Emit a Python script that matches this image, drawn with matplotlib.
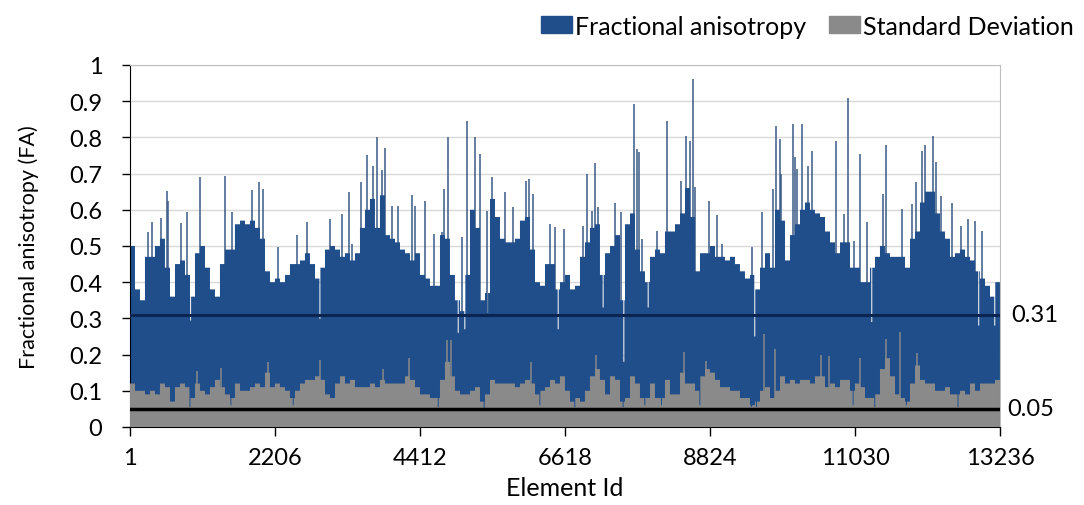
import numpy as np
import matplotlib.pyplot as plt
from matplotlib.patches import Patch
from matplotlib.transforms import blended_transform_factory

plt.rcParams['font.family'] = ['Lato', 'DejaVu Sans']

n_el = 13236
x_ticks = [1, 2206, 4412, 6618, 8824, 11030, 13236]

# FA level read along the axis, 174 equal runs of elements (left to right)
fa_level = [0.50, 0.38, 0.35, 0.47, 0.47, 0.50, 0.52, 0.44, 0.36, 0.45, 0.46, 0.42,
            0.36, 0.48, 0.50, 0.44, 0.38, 0.36, 0.45, 0.49, 0.49, 0.56, 0.57, 0.56,
            0.57, 0.55, 0.52, 0.43, 0.40, 0.41, 0.40, 0.42, 0.45, 0.45, 0.46, 0.48,
            0.45, 0.41, 0.44, 0.49, 0.50, 0.49, 0.47, 0.48, 0.46, 0.48, 0.55, 0.60,
            0.63, 0.55, 0.64, 0.53, 0.52, 0.51, 0.49, 0.48, 0.46, 0.48, 0.42, 0.41,
            0.39, 0.39, 0.53, 0.52, 0.42, 0.35, 0.32, 0.42, 0.60, 0.55, 0.35, 0.37,
            0.63, 0.58, 0.52, 0.51, 0.51, 0.52, 0.57, 0.58, 0.49, 0.40, 0.39, 0.45,
            0.45, 0.38, 0.40, 0.42, 0.38, 0.39, 0.47, 0.51, 0.55, 0.56, 0.42, 0.48,
            0.50, 0.53, 0.35, 0.56, 0.59, 0.49, 0.43, 0.40, 0.47, 0.49, 0.48, 0.54,
            0.54, 0.56, 0.59, 0.66, 0.58, 0.43, 0.48, 0.48, 0.50, 0.47, 0.47, 0.46,
            0.47, 0.45, 0.43, 0.41, 0.42, 0.38, 0.44, 0.48, 0.44, 0.60, 0.57, 0.46,
            0.53, 0.56, 0.60, 0.62, 0.60, 0.59, 0.58, 0.54, 0.51, 0.48, 0.51, 0.51,
            0.44, 0.44, 0.40, 0.40, 0.44, 0.47, 0.50, 0.48, 0.47, 0.47, 0.47, 0.44,
            0.52, 0.54, 0.62, 0.65, 0.65, 0.59, 0.54, 0.52, 0.47, 0.48, 0.49, 0.47,
            0.46, 0.43, 0.41, 0.39, 0.36, 0.40]

# SD level over the same runs
sd_level = [0.12, 0.10, 0.10, 0.09, 0.10, 0.09, 0.12, 0.11, 0.07, 0.11, 0.12, 0.11,
            0.08, 0.12, 0.10, 0.09, 0.11, 0.13, 0.11, 0.09, 0.08, 0.12, 0.10, 0.10,
            0.11, 0.12, 0.11, 0.15, 0.11, 0.12, 0.11, 0.10, 0.08, 0.10, 0.12, 0.13,
            0.13, 0.14, 0.13, 0.09, 0.08, 0.12, 0.14, 0.12, 0.13, 0.11, 0.11, 0.11,
            0.12, 0.11, 0.13, 0.12, 0.12, 0.12, 0.12, 0.14, 0.13, 0.11, 0.09, 0.09,
            0.08, 0.08, 0.13, 0.18, 0.14, 0.10, 0.09, 0.09, 0.10, 0.11, 0.07, 0.09,
            0.13, 0.12, 0.12, 0.12, 0.12, 0.11, 0.12, 0.13, 0.12, 0.09, 0.10, 0.11,
            0.13, 0.12, 0.14, 0.10, 0.07, 0.08, 0.07, 0.10, 0.14, 0.16, 0.13, 0.09,
            0.14, 0.13, 0.07, 0.08, 0.14, 0.12, 0.08, 0.08, 0.12, 0.08, 0.08, 0.13,
            0.09, 0.09, 0.15, 0.12, 0.12, 0.10, 0.14, 0.16, 0.15, 0.13, 0.11, 0.11,
            0.10, 0.10, 0.08, 0.08, 0.06, 0.07, 0.10, 0.11, 0.08, 0.10, 0.14, 0.12,
            0.13, 0.12, 0.13, 0.13, 0.12, 0.14, 0.14, 0.11, 0.12, 0.11, 0.13, 0.13,
            0.10, 0.12, 0.11, 0.08, 0.08, 0.09, 0.16, 0.19, 0.14, 0.09, 0.08, 0.07,
            0.12, 0.17, 0.13, 0.12, 0.12, 0.10, 0.10, 0.11, 0.09, 0.09, 0.10, 0.09,
            0.12, 0.10, 0.12, 0.12, 0.12, 0.13]

# single elements sticking out above the FA level
fa_spike_el = [269, 340, 467, 558, 583, 771, 862, 1070, 1450, 1547, 1851, 1967,
               2018, 2256, 2535, 2687, 3042, 3220, 3336, 3372, 3509, 3610, 3701,
               3752, 3828, 3879, 3980, 4081, 4284, 4335, 4487, 4629, 4741, 4776,
               4832, 5055, 5126, 5247, 5324, 5425, 5506, 5699, 5830, 6018, 6069,
               6125, 6388, 6464, 6601, 6895, 6946, 7022, 7073, 7123, 7377, 7468,
               7671, 7707, 7742, 7783, 8011, 8168, 8391, 8467, 8518, 8563, 8594,
               8807, 8933, 9009, 9471, 9623, 9785, 9826, 9887, 9912, 10094,
               10120, 10155, 10231, 10317, 10373, 10749, 10860, 10921, 11012,
               11103, 11215, 11458, 11509, 11747, 11894, 11955, 12051, 12103,
               12224, 12259, 12346, 12508, 12650, 12751, 12863, 12969]
fa_spike_val = [0.538, 0.565, 0.576, 0.653, 0.625, 0.563, 0.593, 0.690, 0.694,
                0.593, 0.656, 0.678, 0.657, 0.496, 0.529, 0.565, 0.575, 0.588,
                0.648, 0.505, 0.676, 0.75, 0.72, 0.80, 0.71, 0.77, 0.61, 0.61,
                0.64, 0.61, 0.625, 0.533, 0.538, 0.657, 0.80, 0.524, 0.846, 0.80,
                0.754, 0.598, 0.69, 0.65, 0.607, 0.68, 0.685, 0.644, 0.56, 0.552,
                0.547, 0.556, 0.70, 0.598, 0.73, 0.607, 0.62, 0.593, 0.892,
                0.768, 0.759, 0.519, 0.542, 0.846, 0.68, 0.805, 0.79, 0.96,
                0.662, 0.623, 0.586, 0.505, 0.496, 0.593, 0.657, 0.832, 0.796,
                0.70, 0.837, 0.745, 0.713, 0.837, 0.72, 0.763, 0.79, 0.588, 0.91,
                0.515, 0.754, 0.565, 0.644, 0.78, 0.602, 0.616, 0.676, 0.763,
                0.78, 0.805, 0.731, 0.639, 0.62, 0.556, 0.575, 0.57, 0.542]

# single elements dropping below the FA level (white gaps)
fa_dip_el = [923, 2890, 4994, 5095, 5441, 6515, 7199, 7514, 7884, 9506, 11286,
             12913, 13157]
fa_dip_val = [0.294, 0.298, 0.26, 0.27, 0.315, 0.27, 0.33, 0.18, 0.33, 0.25,
              0.29, 0.28, 0.28]

sd_spike_el = [1014, 1384, 2104, 2890, 3853, 4249, 4826, 4878, 6094, 7088, 8431,
               8771, 9643, 9821, 10515, 10637, 11103, 11503, 11712, 11970]
sd_spike_val = [0.155, 0.162, 0.18, 0.186, 0.16, 0.19, 0.24, 0.24, 0.18, 0.20,
                0.206, 0.183, 0.257, 0.215, 0.20, 0.197, 0.19, 0.243, 0.263,
                0.204]

sd_dip_el = [913, 1536, 2484, 4690, 5389, 6236, 6768, 7503, 7833, 8087, 8670,
             9456, 9532, 11002, 11331, 11813, 12598]
sd_dip_val = [0.055, 0.06, 0.06, 0.055, 0.05, 0.06, 0.055, 0.055, 0.06, 0.06,
              0.06, 0.055, 0.055, 0.06, 0.055, 0.06, 0.055]

fa_mean = 0.31
sd_mean = 0.05

blue = '#1f4e8a'
gray = '#8a8a8a'

# per element series
bounds = np.round(np.linspace(0, n_el, len(fa_level) + 1)).astype(int)
counts = np.diff(bounds)
fa = np.repeat(np.array(fa_level), counts)
sd = np.repeat(np.array(sd_level), counts)
for el, v in zip(fa_dip_el, fa_dip_val):
    fa[el - 8:el + 7] = v
for el, v in zip(sd_dip_el, sd_dip_val):
    sd[el - 8:el + 7] = v
edges = np.arange(n_el + 1) + 0.5

fig = plt.figure(figsize=(10.84, 5.06), dpi=100)
ax = fig.add_axes([0.1199, 0.1542, 0.8026, 0.7154])

# spikes go under the filled series so only their tips show
ax.vlines(fa_spike_el, 0, fa_spike_val, color='#3a5a85', lw=1.1, zorder=1.9)
ax.stairs(fa, edges, fill=True, color=blue, zorder=2)
ax.vlines(sd_spike_el, 0, sd_spike_val, color=gray, lw=1.1, zorder=2.9)
ax.stairs(sd, edges, fill=True, color=gray, zorder=3)

ax.axhline(fa_mean, color='#0b2450', lw=2.2, zorder=4)
ax.axhline(sd_mean, color='black', lw=2.5, zorder=4)

tr = blended_transform_factory(ax.transAxes, ax.transData)
ax.text(1.0126, fa_mean, f'{fa_mean:g}', transform=tr, va='center', ha='left', fontsize=17)
ax.text(1.008, sd_mean, f'{sd_mean:g}', transform=tr, va='center', ha='left', fontsize=17)

ax.set_xlim(0.5, n_el + 0.5)
ax.set_ylim(0, 1)
ax.set_xticks(x_ticks)
ax.set_xticklabels([str(t) for t in x_ticks])
ax.set_yticks(np.arange(0, 1.01, 0.1))
ax.set_yticklabels(['0'] + [f'{v:.1f}' for v in np.arange(0.1, 0.95, 0.1)] + ['1'])
ax.tick_params(axis='x', length=6.5, width=1, pad=8, labelsize=17)
ax.tick_params(axis='y', length=5.8, width=1, pad=14, labelsize=17)
ax.grid(axis='y', color='#d9d9d9', lw=1)
ax.set_axisbelow(True)

ax.spines['left'].set_color('black')
ax.spines['bottom'].set_color('black')
ax.spines['top'].set_color('#bfbfbf')
ax.spines['right'].set_color('#bfbfbf')

ax.set_xlabel('Element Id', fontsize=18, labelpad=6)
ax.set_ylabel('Fractional anisotropy (FA)', fontsize=15.5, labelpad=22)

handles = [Patch(color=blue, label='Fractional anisotropy'),
           Patch(color=gray, label='Standard Deviation')]
fig.legend(handles=handles, loc='center right', bbox_to_anchor=(0.9908, 0.9466), ncol=2,
           frameon=False, fontsize=18, handlelength=1.24, handleheight=0.64,
           handletextpad=0.12, columnspacing=0.92, borderpad=0, borderaxespad=0)

fig.savefig('out.png', dpi=100)
